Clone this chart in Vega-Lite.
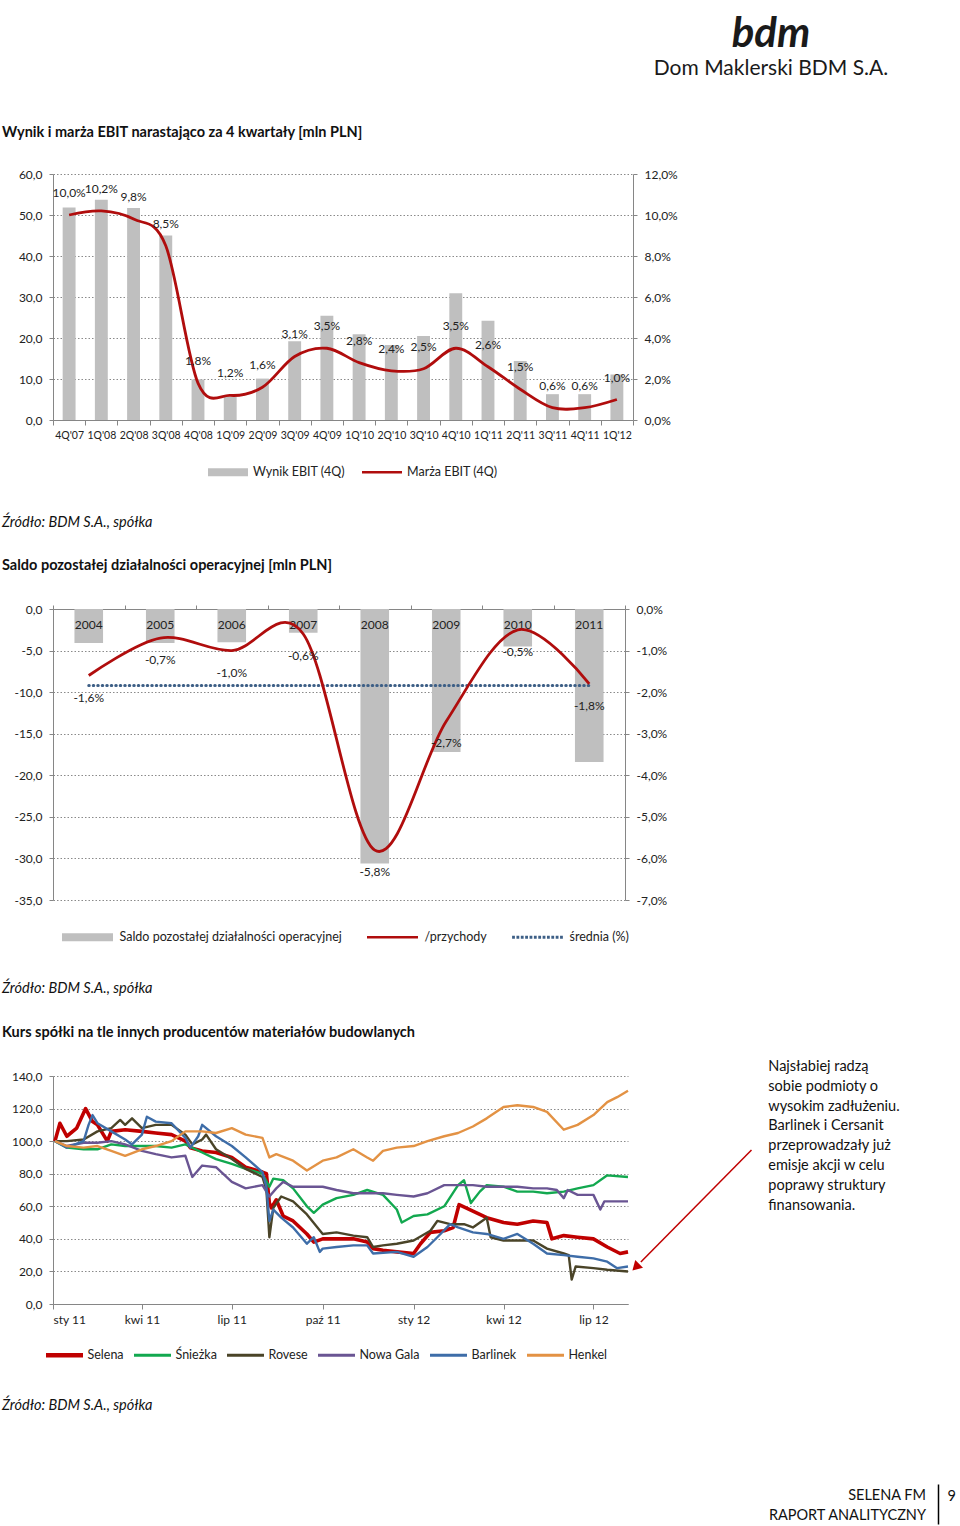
{
  "$schema": "https://vega.github.io/schema/vega-lite/v6.json",
  "background": "white",
  "padding": {"left": 2, "top": 12, "right": 0, "bottom": 0},
  "config": {
    "font": "Lato",
    "view": {"stroke": null},
    "locale": {
      "number": {"decimal": ",", "thousands": " ", "grouping": [3], "currency": ["", " zł"], "minus": "-"},
      "time": {
        "dateTime": "%A, %e %B %Y, %X", "date": "%d.%m.%Y", "time": "%H:%M:%S", "periods": ["AM", "PM"],
        "days": ["niedziela", "poniedziałek", "wtorek", "środa", "czwartek", "piątek", "sobota"],
        "shortDays": ["niedz.", "pon.", "wt.", "śr.", "czw.", "pt.", "sob."],
        "months": ["styczeń", "luty", "marzec", "kwiecień", "maj", "czerwiec", "lipiec", "sierpień", "wrzesień", "październik", "listopad", "grudzień"],
        "shortMonths": ["sty", "lut", "mar", "kwi", "maj", "cze", "lip", "sie", "wrz", "paź", "lis", "gru"]
      }
    },
    "axis": {
      "labelFont": "Lato", "labelFontSize": 12, "labelColor": "#222", "domainColor": "#868686", "tickColor": "#868686",
      "gridColor": "#8a8a8a", "gridDash": [1.5, 2], "gridWidth": 1, "title": null, "labelOverlap": false, "tickSize": 4, "labelPadding": 7
    },
    "legend": {"labelFont": "Lato", "labelFontSize": 12.5, "labelColor": "#222", "padding": 0, "labelLimit": 400, "symbolStrokeWidth": 0, "symbolSize": 1600},
    "title": {"font": "Lato", "fontSize": 14.5, "color": "#111", "subtitleFont": "Lato", "subtitleFontSize": 14.5, "subtitleColor": "#111"}
  },
  "title": {
    "text": "bdm", "subtitle": "Dom Maklerski BDM S.A.", "anchor": "start", "align": "center", "frame": "group",
    "fontSize": 42, "fontWeight": "bold", "fontStyle": "italic", "color": "#1a1a1a",
    "subtitleFontSize": 21, "subtitleColor": "#1a1a1a", "subtitlePadding": 2, "dx": 718, "offset": 45
  },
  "spacing": 36,
  "resolve": {"scale": {"color": "independent"}, "legend": {"color": "independent"}},
  "vconcat": [
    {
      "width": 580, "height": 246,
      "title": {"text": "Wynik i marża EBIT narastająco za 4 kwartały [mln PLN]", "anchor": "start", "frame": "group", "dx": -51, "offset": 28, "fontWeight": "bold"},
      "data": {"values": [
        {"q": "4Q'07", "wynik": 51.8, "marza": 0.100},
        {"q": "1Q'08", "wynik": 53.7, "marza": 0.102},
        {"q": "2Q'08", "wynik": 51.7, "marza": 0.098},
        {"q": "3Q'08", "wynik": 45.0, "marza": 0.085},
        {"q": "4Q'08", "wynik": 9.9, "marza": 0.018},
        {"q": "1Q'09", "wynik": 5.7, "marza": 0.012},
        {"q": "2Q'09", "wynik": 10.1, "marza": 0.016},
        {"q": "3Q'09", "wynik": 19.2, "marza": 0.031},
        {"q": "4Q'09", "wynik": 25.4, "marza": 0.035},
        {"q": "1Q'10", "wynik": 20.9, "marza": 0.028},
        {"q": "2Q'10", "wynik": 18.3, "marza": 0.024},
        {"q": "3Q'10", "wynik": 20.5, "marza": 0.025},
        {"q": "4Q'10", "wynik": 30.9, "marza": 0.035},
        {"q": "1Q'11", "wynik": 24.2, "marza": 0.026},
        {"q": "2Q'11", "wynik": 14.4, "marza": 0.015},
        {"q": "3Q'11", "wynik": 6.3, "marza": 0.006},
        {"q": "4Q'11", "wynik": 6.3, "marza": 0.006},
        {"q": "1Q'12", "wynik": 11.1, "marza": 0.010}
      ]},
      "encoding": {
        "x": {"field": "q", "type": "ordinal", "sort": null, "scale": {"paddingInner": 0, "paddingOuter": 0},
              "axis": {"labelAngle": 0, "tickBand": "extent", "labelFontSize": 10.5, "labelPadding": 5, "tickSize": 5, "grid": false}}
      },
      "layer": [
        {
          "mark": {"type": "bar", "width": {"band": 0.4}},
          "encoding": {
            "y": {"field": "wynik", "type": "quantitative", "scale": {"domain": [0, 60], "nice": false},
                  "axis": {"values": [0, 10, 20, 30, 40, 50, 60], "format": ".1f", "grid": true}},
            "color": {"datum": "Wynik EBIT (4Q)", "type": "nominal",
              "scale": {"domain": ["Wynik EBIT (4Q)", "Marża EBIT (4Q)"], "range": ["#bfbfbf", "#b00d0d"]},
              "legend": {"orient": "none", "legendX": 155, "legendY": 278, "direction": "horizontal", "title": null,
                "symbolOffset": 0, "labelOffset": 5, "columnPadding": 17,
                "encode": {"symbols": {"update": {
                  "shape": {"signal": "datum.value === 'Wynik EBIT (4Q)' ? 'M-1,-0.2H1V0.2H-1Z' : 'M-1,-0.0625H1V0.0625H-1Z'"},
                  "fill": {"signal": "datum.value === 'Wynik EBIT (4Q)' ? '#bfbfbf' : '#b00d0d'"},
                  "stroke": {"value": "transparent"}, "strokeWidth": {"value": 0}, "opacity": {"value": 1}}}}}}
          }
        },
        {
          "encoding": {
            "y": {"field": "marza", "type": "quantitative", "scale": {"domain": [0, 0.12], "nice": false},
                  "axis": {"orient": "right", "values": [0, 0.02, 0.04, 0.06, 0.08, 0.1, 0.12], "format": ".1%", "grid": false}}
          },
          "layer": [
            {"mark": {"type": "line", "interpolate": "cardinal", "strokeWidth": 2.8},
             "encoding": {"color": {"datum": "Marża EBIT (4Q)", "type": "nominal"}}},
            {"mark": {"type": "text", "dy": -22, "fontSize": 12, "color": "#222"},
             "encoding": {"text": {"field": "marza", "type": "quantitative", "format": ".1%"}}}
          ]
        }
      ],
      "resolve": {"scale": {"y": "independent"}}
    },
    {
      "width": 572, "height": 291,
      "title": {"text": "Źródło: BDM S.A., spółka", "subtitle": "Saldo pozostałej działalności operacyjnej [mln PLN]",
        "anchor": "start", "frame": "group", "dx": -51, "offset": 30, "fontStyle": "italic", "fontWeight": "normal",
        "subtitleFontWeight": "bold", "subtitleFontStyle": "normal", "subtitlePadding": 28},
      "data": {"values": [
        {"rok": "2004", "saldo": -4.1, "przych": -0.016, "sred": -0.018375},
        {"rok": "2005", "saldo": -4.1, "przych": -0.007, "sred": -0.018375},
        {"rok": "2006", "saldo": -4.0, "przych": -0.010, "sred": -0.018375},
        {"rok": "2007", "saldo": -2.85, "przych": -0.006, "sred": -0.018375},
        {"rok": "2008", "saldo": -30.6, "przych": -0.058, "sred": -0.018375},
        {"rok": "2009", "saldo": -17.2, "przych": -0.027, "sred": -0.018375},
        {"rok": "2010", "saldo": -4.5, "przych": -0.005, "sred": -0.018375},
        {"rok": "2011", "saldo": -18.4, "przych": -0.018, "sred": -0.018375}
      ]},
      "encoding": {
        "x": {"field": "rok", "type": "ordinal", "sort": null, "scale": {"paddingInner": 0, "paddingOuter": 0},
              "axis": {"orient": "top", "labels": false, "tickBand": "extent", "ticks": true, "tickSize": 4, "grid": false}}
      },
      "layer": [
        {
          "encoding": {
            "y": {"field": "saldo", "type": "quantitative", "scale": {"domain": [-35, 0], "nice": false},
                  "axis": {"values": [-35, -30, -25, -20, -15, -10, -5, 0], "format": ".1f", "grid": true}}
          },
          "layer": [
            {"mark": {"type": "bar", "width": {"band": 0.4}},
             "encoding": {"color": {"datum": "Saldo pozostałej działalności operacyjnej", "type": "nominal",
               "scale": {"domain": ["Saldo pozostałej działalności operacyjnej", "/przychody", "średnia (%)"], "range": ["#bfbfbf", "#b00d0d", "#3d5f86"]},
               "legend": {"orient": "none", "legendX": 9, "legendY": 308, "direction": "horizontal", "title": null,
                 "symbolOffset": 5.5, "labelOffset": 12, "columnPadding": 25,
                 "encode": {"symbols": {"update": {
                   "shape": {"signal": "datum.value === '/przychody' ? 'M-1.275,-0.0625H1.275V0.0625H-1.275Z' : (datum.value === 'średnia (%)' ? 'M-1.27,-0.07h0.14v0.14h-0.14Z M-1.052,-0.07h0.14v0.14h-0.14Z M-0.834,-0.07h0.14v0.14h-0.14Z M-0.616,-0.07h0.14v0.14h-0.14Z M-0.398,-0.07h0.14v0.14h-0.14Z M-0.18,-0.07h0.14v0.14h-0.14Z M0.038,-0.07h0.14v0.14h-0.14Z M0.256,-0.07h0.14v0.14h-0.14Z M0.474,-0.07h0.14v0.14h-0.14Z M0.692,-0.07h0.14v0.14h-0.14Z M0.91,-0.07h0.14v0.14h-0.14Z M1.128,-0.07h0.14v0.14h-0.14Z' : 'M-1.275,-0.2H1.275V0.2H-1.275Z')"},
                   "fill": {"signal": "datum.value === '/przychody' ? '#b00d0d' : (datum.value === 'średnia (%)' ? '#3d5f86' : '#bfbfbf')"},
                   "stroke": {"value": "transparent"}, "strokeWidth": {"value": 0}, "opacity": {"value": 1}}}}}}}},
            {"mark": {"type": "text", "dy": 16, "fontSize": 12, "color": "#222"},
             "encoding": {"y": {"datum": 0, "type": "quantitative"}, "text": {"field": "rok", "type": "nominal"}}}
          ]
        },
        {
          "encoding": {
            "y": {"field": "przych", "type": "quantitative", "scale": {"domain": [-0.07, 0], "nice": false},
                  "axis": {"orient": "right", "values": [-0.07, -0.06, -0.05, -0.04, -0.03, -0.02, -0.01, 0], "format": ".1%", "grid": false}}
          },
          "layer": [
            {"mark": {"type": "line", "strokeDash": [0.5, 4], "strokeCap": "round", "strokeWidth": 3},
             "encoding": {"y": {"field": "sred", "type": "quantitative"}, "color": {"datum": "średnia (%)", "type": "nominal"}}},
            {"mark": {"type": "line", "interpolate": "cardinal", "strokeWidth": 2.8},
             "encoding": {"color": {"datum": "/przychody", "type": "nominal"}}},
            {"mark": {"type": "text", "dy": 22, "fontSize": 12, "color": "#222"},
             "encoding": {"text": {"field": "przych", "type": "quantitative", "format": ".1%"}}}
          ]
        }
      ],
      "resolve": {"scale": {"y": "independent"}}
    },
    {
      "width": 575, "height": 228,
      "title": {"text": "Źródło: BDM S.A., spółka", "subtitle": "Kurs spółki na tle innych producentów materiałów budowlanych",
        "anchor": "start", "frame": "group", "dx": -51, "offset": 18, "fontStyle": "italic", "fontWeight": "normal",
        "subtitleFontWeight": "bold", "subtitleFontStyle": "normal", "subtitlePadding": 30},
      "encoding": {
        "x": {"field": "d", "type": "temporal",
              "scale": {"type": "utc", "domain": [{"year": 2011, "month": 1, "date": 1, "utc": true}, {"year": 2012, "month": 8, "date": 5, "utc": true}]},
              "axis": {"format": "%b %y", "tickSize": 5, "labelPadding": 5, "grid": false, "labelOverlap": false,
                       "values": [{"year": 2011, "month": 1, "date": 1, "utc": true}, {"year": 2011, "month": 4, "date": 1, "utc": true}, {"year": 2011, "month": 7, "date": 1, "utc": true}, {"year": 2011, "month": 10, "date": 1, "utc": true}, {"year": 2012, "month": 1, "date": 1, "utc": true}, {"year": 2012, "month": 4, "date": 1, "utc": true}, {"year": 2012, "month": 7, "date": 1, "utc": true}]}},
        "y": {"field": "v", "type": "quantitative", "scale": {"domain": [0, 140], "nice": false},
              "axis": {"values": [0, 20, 40, 60, 80, 100, 120, 140], "format": ".1f", "grid": true, "labelOverlap": false}}
      },
      "layer": [
        {
          "data": {"name": "kursy"},
          "transform": [{"filter": "datum.s === 'Selena'"}],
          "mark": {"type": "line", "strokeWidth": 3.6, "strokeJoin": "round"},
          "encoding": {
            "color": {"field": "s", "type": "nominal", "sort": null,
              "scale": {"domain": ["Selena", "Śnieżka", "Rovese", "Nowa Gala", "Barlinek", "Henkel"], "range": ["#c00000", "#12a84f", "#4a4428", "#6a5593", "#3e6da8", "#e39244"]},
              "legend": {"orient": "none", "legendX": -7, "legendY": 259, "direction": "horizontal", "title": null,
                "symbolOffset": -1.5, "labelOffset": 3, "columnPadding": 10,
                "encode": {"symbols": {"update": {
                  "shape": {"signal": "datum.value === 'Selena' ? 'M-0.925,-0.11H0.925V0.11H-0.925Z' : 'M-0.925,-0.075H0.925V0.075H-0.925Z'"},
                  "fill": {"signal": "datum.value === 'Selena' ? '#c00000' : datum.value === 'Śnieżka' ? '#12a84f' : datum.value === 'Rovese' ? '#4a4428' : datum.value === 'Nowa Gala' ? '#6a5593' : datum.value === 'Barlinek' ? '#3e6da8' : '#e39244'"},
                  "stroke": {"value": "transparent"}, "strokeWidth": {"value": 0}, "opacity": {"value": 1}}}}}}
          }
        },
        {
          "data": {"name": "kursy"},
          "transform": [{"filter": "datum.s !== 'Selena'"}],
          "mark": {"type": "line", "strokeWidth": 2.4, "strokeJoin": "round"},
          "encoding": {"color": {"field": "s", "type": "nominal", "sort": null}}
        },
        {
          "data": {"values": [{"d": "2012-12-25", "v": 150, "t": "Najsłabiej radzą\nsobie podmioty o\nwysokim zadłużeniu.\nBarlinek i Cersanit\nprzeprowadzały już\nemisje akcji w celu\npoprawy struktury\nfinansowania."}]},
          "mark": {"type": "text", "align": "left", "baseline": "top", "lineBreak": "\n", "fontSize": 14.5, "lineHeight": 19.9, "color": "#111"},
          "encoding": {"text": {"field": "t", "type": "nominal"}}
        },
        {
          "data": {"values": [{"d": "2012-12-08", "v": 94.6, "d2": "2012-08-18", "v2": 25.8}]},
          "mark": {"type": "rule", "color": "#c00000", "strokeWidth": 1.5},
          "encoding": {"x2": {"field": "d2"}, "y2": {"field": "v2"}}
        },
        {
          "data": {"values": [{"d": "2012-08-14", "v": 23.3}]},
          "mark": {"type": "point", "shape": "triangle", "filled": true, "size": 120, "angle": 225, "color": "#c00000", "opacity": 1},
          "encoding": {}
        }
      ]
    },
    {
      "width": 580, "height": 17,
      "data": {"values": [{"v": 0}]},
      "mark": {"type": "point", "opacity": 0},
      "title": {"text": "Źródło: BDM S.A., spółka", "subtitle": " ", "anchor": "start", "frame": "group", "dx": -51, "offset": 0, "fontStyle": "italic", "fontWeight": "normal", "subtitlePadding": 0}
    },
    {
      "width": 885, "height": 40,
      "data": {"values": [{"v": 0}, {"v": 1}]},
      "mark": {"type": "point", "opacity": 0},
      "encoding": {
        "y": {"field": "v", "type": "quantitative", "scale": {"domain": [0, 1], "nice": false},
              "axis": {"orient": "right", "labels": false, "ticks": false, "grid": false, "domain": true, "domainColor": "#000", "domainWidth": 1.5,
                       "title": "9", "titleAngle": 0, "titleAlign": "left", "titleBaseline": "middle", "titleFontSize": 14.5, "titleFontWeight": "normal", "titleColor": "#111", "titlePadding": 9, "titleY": 12}}
      },
      "title": {"text": ["SELENA FM", "RAPORT ANALITYCZNY"], "anchor": "end", "align": "right", "frame": "group", "dx": -12, "dy": 42, "offset": 0, "fontWeight": "normal", "lineHeight": 20}
    }
  ],
  "datasets": {
    "kursy": [
      {"s": "Selena", "d": "2011-01-03", "v": 100}, {"s": "Selena", "d": "2011-01-08", "v": 111}, {"s": "Selena", "d": "2011-01-15", "v": 103},
      {"s": "Selena", "d": "2011-01-25", "v": 108}, {"s": "Selena", "d": "2011-02-03", "v": 120}, {"s": "Selena", "d": "2011-02-10", "v": 112},
      {"s": "Selena", "d": "2011-02-15", "v": 110}, {"s": "Selena", "d": "2011-02-25", "v": 100}, {"s": "Selena", "d": "2011-03-01", "v": 106},
      {"s": "Selena", "d": "2011-03-15", "v": 107}, {"s": "Selena", "d": "2011-04-01", "v": 106}, {"s": "Selena", "d": "2011-04-15", "v": 105},
      {"s": "Selena", "d": "2011-05-01", "v": 104}, {"s": "Selena", "d": "2011-05-15", "v": 100}, {"s": "Selena", "d": "2011-05-20", "v": 96},
      {"s": "Selena", "d": "2011-06-01", "v": 94}, {"s": "Selena", "d": "2011-06-15", "v": 93}, {"s": "Selena", "d": "2011-07-01", "v": 90},
      {"s": "Selena", "d": "2011-07-15", "v": 84}, {"s": "Selena", "d": "2011-08-01", "v": 81}, {"s": "Selena", "d": "2011-08-05", "v": 80},
      {"s": "Selena", "d": "2011-08-08", "v": 62}, {"s": "Selena", "d": "2011-08-10", "v": 59}, {"s": "Selena", "d": "2011-08-15", "v": 64},
      {"s": "Selena", "d": "2011-08-22", "v": 54}, {"s": "Selena", "d": "2011-09-01", "v": 51}, {"s": "Selena", "d": "2011-09-15", "v": 43},
      {"s": "Selena", "d": "2011-09-22", "v": 38}, {"s": "Selena", "d": "2011-10-01", "v": 40}, {"s": "Selena", "d": "2011-10-15", "v": 40},
      {"s": "Selena", "d": "2011-11-01", "v": 40}, {"s": "Selena", "d": "2011-11-15", "v": 38}, {"s": "Selena", "d": "2011-11-21", "v": 34},
      {"s": "Selena", "d": "2011-12-01", "v": 33}, {"s": "Selena", "d": "2011-12-15", "v": 32}, {"s": "Selena", "d": "2012-01-01", "v": 31},
      {"s": "Selena", "d": "2012-01-08", "v": 37}, {"s": "Selena", "d": "2012-01-18", "v": 44}, {"s": "Selena", "d": "2012-02-01", "v": 45},
      {"s": "Selena", "d": "2012-02-10", "v": 47}, {"s": "Selena", "d": "2012-02-16", "v": 61}, {"s": "Selena", "d": "2012-03-01", "v": 57},
      {"s": "Selena", "d": "2012-03-15", "v": 53}, {"s": "Selena", "d": "2012-04-01", "v": 50}, {"s": "Selena", "d": "2012-04-15", "v": 49},
      {"s": "Selena", "d": "2012-05-01", "v": 51}, {"s": "Selena", "d": "2012-05-15", "v": 50}, {"s": "Selena", "d": "2012-05-20", "v": 40},
      {"s": "Selena", "d": "2012-06-01", "v": 42}, {"s": "Selena", "d": "2012-06-15", "v": 41}, {"s": "Selena", "d": "2012-07-01", "v": 40},
      {"s": "Selena", "d": "2012-07-15", "v": 35}, {"s": "Selena", "d": "2012-07-28", "v": 31}, {"s": "Selena", "d": "2012-08-05", "v": 32},

      {"s": "Śnieżka", "d": "2011-01-03", "v": 100}, {"s": "Śnieżka", "d": "2011-01-15", "v": 96}, {"s": "Śnieżka", "d": "2011-02-01", "v": 95},
      {"s": "Śnieżka", "d": "2011-02-15", "v": 95}, {"s": "Śnieżka", "d": "2011-03-01", "v": 98}, {"s": "Śnieżka", "d": "2011-03-15", "v": 97},
      {"s": "Śnieżka", "d": "2011-04-01", "v": 97}, {"s": "Śnieżka", "d": "2011-04-15", "v": 97}, {"s": "Śnieżka", "d": "2011-05-01", "v": 96},
      {"s": "Śnieżka", "d": "2011-05-15", "v": 98}, {"s": "Śnieżka", "d": "2011-06-01", "v": 93}, {"s": "Śnieżka", "d": "2011-06-15", "v": 89},
      {"s": "Śnieżka", "d": "2011-07-01", "v": 86}, {"s": "Śnieżka", "d": "2011-07-15", "v": 83}, {"s": "Śnieżka", "d": "2011-08-01", "v": 80},
      {"s": "Śnieżka", "d": "2011-08-08", "v": 72}, {"s": "Śnieżka", "d": "2011-08-12", "v": 77}, {"s": "Śnieżka", "d": "2011-08-22", "v": 76},
      {"s": "Śnieżka", "d": "2011-09-01", "v": 71}, {"s": "Śnieżka", "d": "2011-09-15", "v": 60}, {"s": "Śnieżka", "d": "2011-09-22", "v": 56},
      {"s": "Śnieżka", "d": "2011-10-01", "v": 61}, {"s": "Śnieżka", "d": "2011-10-15", "v": 65}, {"s": "Śnieżka", "d": "2011-11-01", "v": 67},
      {"s": "Śnieżka", "d": "2011-11-15", "v": 70}, {"s": "Śnieżka", "d": "2011-12-01", "v": 67}, {"s": "Śnieżka", "d": "2011-12-15", "v": 58},
      {"s": "Śnieżka", "d": "2011-12-20", "v": 50}, {"s": "Śnieżka", "d": "2012-01-01", "v": 54}, {"s": "Śnieżka", "d": "2012-01-15", "v": 55},
      {"s": "Śnieżka", "d": "2012-02-01", "v": 60}, {"s": "Śnieżka", "d": "2012-02-15", "v": 73}, {"s": "Śnieżka", "d": "2012-02-21", "v": 76},
      {"s": "Śnieżka", "d": "2012-02-28", "v": 62}, {"s": "Śnieżka", "d": "2012-03-08", "v": 69}, {"s": "Śnieżka", "d": "2012-03-15", "v": 73},
      {"s": "Śnieżka", "d": "2012-04-01", "v": 72}, {"s": "Śnieżka", "d": "2012-04-15", "v": 69}, {"s": "Śnieżka", "d": "2012-05-01", "v": 69},
      {"s": "Śnieżka", "d": "2012-05-15", "v": 68}, {"s": "Śnieżka", "d": "2012-06-01", "v": 69}, {"s": "Śnieżka", "d": "2012-06-15", "v": 71},
      {"s": "Śnieżka", "d": "2012-07-01", "v": 73}, {"s": "Śnieżka", "d": "2012-07-15", "v": 79}, {"s": "Śnieżka", "d": "2012-08-05", "v": 78},

      {"s": "Rovese", "d": "2011-01-03", "v": 100}, {"s": "Rovese", "d": "2011-01-15", "v": 100}, {"s": "Rovese", "d": "2011-02-01", "v": 101},
      {"s": "Rovese", "d": "2011-02-15", "v": 106}, {"s": "Rovese", "d": "2011-03-01", "v": 108}, {"s": "Rovese", "d": "2011-03-10", "v": 113},
      {"s": "Rovese", "d": "2011-03-15", "v": 110}, {"s": "Rovese", "d": "2011-03-22", "v": 114}, {"s": "Rovese", "d": "2011-04-01", "v": 108},
      {"s": "Rovese", "d": "2011-04-15", "v": 110}, {"s": "Rovese", "d": "2011-05-01", "v": 110}, {"s": "Rovese", "d": "2011-05-15", "v": 104},
      {"s": "Rovese", "d": "2011-05-22", "v": 98}, {"s": "Rovese", "d": "2011-06-01", "v": 101}, {"s": "Rovese", "d": "2011-06-05", "v": 104},
      {"s": "Rovese", "d": "2011-06-15", "v": 95}, {"s": "Rovese", "d": "2011-07-01", "v": 89}, {"s": "Rovese", "d": "2011-07-15", "v": 83},
      {"s": "Rovese", "d": "2011-08-01", "v": 78}, {"s": "Rovese", "d": "2011-08-05", "v": 70}, {"s": "Rovese", "d": "2011-08-08", "v": 41},
      {"s": "Rovese", "d": "2011-08-12", "v": 59}, {"s": "Rovese", "d": "2011-08-20", "v": 66}, {"s": "Rovese", "d": "2011-09-01", "v": 63},
      {"s": "Rovese", "d": "2011-09-15", "v": 55}, {"s": "Rovese", "d": "2011-10-01", "v": 43}, {"s": "Rovese", "d": "2011-10-15", "v": 44},
      {"s": "Rovese", "d": "2011-11-01", "v": 42}, {"s": "Rovese", "d": "2011-11-15", "v": 41}, {"s": "Rovese", "d": "2011-11-21", "v": 35},
      {"s": "Rovese", "d": "2011-12-01", "v": 36}, {"s": "Rovese", "d": "2011-12-15", "v": 37}, {"s": "Rovese", "d": "2012-01-01", "v": 39},
      {"s": "Rovese", "d": "2012-01-18", "v": 45}, {"s": "Rovese", "d": "2012-01-25", "v": 51}, {"s": "Rovese", "d": "2012-02-07", "v": 49},
      {"s": "Rovese", "d": "2012-02-21", "v": 49}, {"s": "Rovese", "d": "2012-03-01", "v": 47}, {"s": "Rovese", "d": "2012-03-15", "v": 53},
      {"s": "Rovese", "d": "2012-03-19", "v": 41}, {"s": "Rovese", "d": "2012-04-01", "v": 39}, {"s": "Rovese", "d": "2012-04-15", "v": 39},
      {"s": "Rovese", "d": "2012-05-01", "v": 39}, {"s": "Rovese", "d": "2012-05-15", "v": 34}, {"s": "Rovese", "d": "2012-06-01", "v": 31},
      {"s": "Rovese", "d": "2012-06-06", "v": 30}, {"s": "Rovese", "d": "2012-06-09", "v": 15}, {"s": "Rovese", "d": "2012-06-13", "v": 23},
      {"s": "Rovese", "d": "2012-07-01", "v": 22}, {"s": "Rovese", "d": "2012-07-15", "v": 21}, {"s": "Rovese", "d": "2012-08-05", "v": 20},

      {"s": "Nowa Gala", "d": "2011-01-03", "v": 100}, {"s": "Nowa Gala", "d": "2011-01-15", "v": 97}, {"s": "Nowa Gala", "d": "2011-02-01", "v": 99},
      {"s": "Nowa Gala", "d": "2011-02-15", "v": 99}, {"s": "Nowa Gala", "d": "2011-03-01", "v": 100}, {"s": "Nowa Gala", "d": "2011-03-15", "v": 98},
      {"s": "Nowa Gala", "d": "2011-04-01", "v": 94}, {"s": "Nowa Gala", "d": "2011-04-15", "v": 92}, {"s": "Nowa Gala", "d": "2011-05-01", "v": 90},
      {"s": "Nowa Gala", "d": "2011-05-15", "v": 91}, {"s": "Nowa Gala", "d": "2011-05-22", "v": 78}, {"s": "Nowa Gala", "d": "2011-06-01", "v": 85},
      {"s": "Nowa Gala", "d": "2011-06-15", "v": 84}, {"s": "Nowa Gala", "d": "2011-07-01", "v": 75}, {"s": "Nowa Gala", "d": "2011-07-15", "v": 71},
      {"s": "Nowa Gala", "d": "2011-08-01", "v": 73}, {"s": "Nowa Gala", "d": "2011-08-08", "v": 66}, {"s": "Nowa Gala", "d": "2011-08-15", "v": 71},
      {"s": "Nowa Gala", "d": "2011-08-22", "v": 75}, {"s": "Nowa Gala", "d": "2011-09-01", "v": 72}, {"s": "Nowa Gala", "d": "2011-09-15", "v": 72},
      {"s": "Nowa Gala", "d": "2011-10-01", "v": 72}, {"s": "Nowa Gala", "d": "2011-10-15", "v": 70}, {"s": "Nowa Gala", "d": "2011-11-01", "v": 68},
      {"s": "Nowa Gala", "d": "2011-11-15", "v": 68}, {"s": "Nowa Gala", "d": "2011-12-01", "v": 68}, {"s": "Nowa Gala", "d": "2011-12-15", "v": 67},
      {"s": "Nowa Gala", "d": "2012-01-01", "v": 66}, {"s": "Nowa Gala", "d": "2012-01-15", "v": 68}, {"s": "Nowa Gala", "d": "2012-02-01", "v": 73},
      {"s": "Nowa Gala", "d": "2012-02-15", "v": 73}, {"s": "Nowa Gala", "d": "2012-03-01", "v": 73}, {"s": "Nowa Gala", "d": "2012-03-15", "v": 72},
      {"s": "Nowa Gala", "d": "2012-04-01", "v": 72}, {"s": "Nowa Gala", "d": "2012-04-15", "v": 72}, {"s": "Nowa Gala", "d": "2012-05-01", "v": 71},
      {"s": "Nowa Gala", "d": "2012-05-15", "v": 71}, {"s": "Nowa Gala", "d": "2012-05-25", "v": 70}, {"s": "Nowa Gala", "d": "2012-06-01", "v": 65},
      {"s": "Nowa Gala", "d": "2012-06-05", "v": 70}, {"s": "Nowa Gala", "d": "2012-06-15", "v": 67}, {"s": "Nowa Gala", "d": "2012-07-01", "v": 67},
      {"s": "Nowa Gala", "d": "2012-07-08", "v": 58}, {"s": "Nowa Gala", "d": "2012-07-12", "v": 63}, {"s": "Nowa Gala", "d": "2012-08-05", "v": 63},

      {"s": "Barlinek", "d": "2011-01-03", "v": 100}, {"s": "Barlinek", "d": "2011-01-15", "v": 96}, {"s": "Barlinek", "d": "2011-02-01", "v": 100},
      {"s": "Barlinek", "d": "2011-02-06", "v": 110}, {"s": "Barlinek", "d": "2011-02-10", "v": 116}, {"s": "Barlinek", "d": "2011-02-15", "v": 111},
      {"s": "Barlinek", "d": "2011-03-01", "v": 106}, {"s": "Barlinek", "d": "2011-03-15", "v": 101}, {"s": "Barlinek", "d": "2011-03-22", "v": 98},
      {"s": "Barlinek", "d": "2011-04-01", "v": 104}, {"s": "Barlinek", "d": "2011-04-06", "v": 115}, {"s": "Barlinek", "d": "2011-04-15", "v": 112},
      {"s": "Barlinek", "d": "2011-05-01", "v": 111}, {"s": "Barlinek", "d": "2011-05-15", "v": 102}, {"s": "Barlinek", "d": "2011-05-20", "v": 96},
      {"s": "Barlinek", "d": "2011-05-28", "v": 103}, {"s": "Barlinek", "d": "2011-06-01", "v": 110}, {"s": "Barlinek", "d": "2011-06-15", "v": 103},
      {"s": "Barlinek", "d": "2011-07-01", "v": 97}, {"s": "Barlinek", "d": "2011-07-15", "v": 90}, {"s": "Barlinek", "d": "2011-08-01", "v": 81},
      {"s": "Barlinek", "d": "2011-08-05", "v": 72}, {"s": "Barlinek", "d": "2011-08-08", "v": 51}, {"s": "Barlinek", "d": "2011-08-12", "v": 58},
      {"s": "Barlinek", "d": "2011-08-20", "v": 53}, {"s": "Barlinek", "d": "2011-09-01", "v": 47}, {"s": "Barlinek", "d": "2011-09-15", "v": 37},
      {"s": "Barlinek", "d": "2011-09-22", "v": 41}, {"s": "Barlinek", "d": "2011-09-28", "v": 32}, {"s": "Barlinek", "d": "2011-10-01", "v": 34},
      {"s": "Barlinek", "d": "2011-10-15", "v": 35}, {"s": "Barlinek", "d": "2011-11-01", "v": 36}, {"s": "Barlinek", "d": "2011-11-15", "v": 36},
      {"s": "Barlinek", "d": "2011-11-21", "v": 31}, {"s": "Barlinek", "d": "2011-12-15", "v": 32}, {"s": "Barlinek", "d": "2012-01-01", "v": 29},
      {"s": "Barlinek", "d": "2012-01-15", "v": 35}, {"s": "Barlinek", "d": "2012-01-25", "v": 41}, {"s": "Barlinek", "d": "2012-02-07", "v": 49},
      {"s": "Barlinek", "d": "2012-02-15", "v": 47}, {"s": "Barlinek", "d": "2012-03-01", "v": 44}, {"s": "Barlinek", "d": "2012-03-15", "v": 43},
      {"s": "Barlinek", "d": "2012-04-01", "v": 40}, {"s": "Barlinek", "d": "2012-04-15", "v": 43}, {"s": "Barlinek", "d": "2012-05-01", "v": 37},
      {"s": "Barlinek", "d": "2012-05-15", "v": 31}, {"s": "Barlinek", "d": "2012-06-01", "v": 30}, {"s": "Barlinek", "d": "2012-06-15", "v": 29},
      {"s": "Barlinek", "d": "2012-07-01", "v": 28}, {"s": "Barlinek", "d": "2012-07-15", "v": 26}, {"s": "Barlinek", "d": "2012-07-25", "v": 22},
      {"s": "Barlinek", "d": "2012-08-05", "v": 23},

      {"s": "Henkel", "d": "2011-01-03", "v": 100}, {"s": "Henkel", "d": "2011-01-15", "v": 97}, {"s": "Henkel", "d": "2011-02-01", "v": 96},
      {"s": "Henkel", "d": "2011-02-15", "v": 97}, {"s": "Henkel", "d": "2011-03-01", "v": 94}, {"s": "Henkel", "d": "2011-03-15", "v": 91},
      {"s": "Henkel", "d": "2011-04-01", "v": 95}, {"s": "Henkel", "d": "2011-04-15", "v": 97}, {"s": "Henkel", "d": "2011-05-01", "v": 100},
      {"s": "Henkel", "d": "2011-05-15", "v": 106}, {"s": "Henkel", "d": "2011-06-01", "v": 106}, {"s": "Henkel", "d": "2011-06-15", "v": 105},
      {"s": "Henkel", "d": "2011-07-01", "v": 108}, {"s": "Henkel", "d": "2011-07-15", "v": 104}, {"s": "Henkel", "d": "2011-08-01", "v": 102},
      {"s": "Henkel", "d": "2011-08-08", "v": 90}, {"s": "Henkel", "d": "2011-08-15", "v": 92}, {"s": "Henkel", "d": "2011-09-01", "v": 88},
      {"s": "Henkel", "d": "2011-09-15", "v": 82}, {"s": "Henkel", "d": "2011-10-01", "v": 88}, {"s": "Henkel", "d": "2011-10-15", "v": 90},
      {"s": "Henkel", "d": "2011-11-01", "v": 95}, {"s": "Henkel", "d": "2011-11-15", "v": 90}, {"s": "Henkel", "d": "2011-11-21", "v": 88},
      {"s": "Henkel", "d": "2011-12-01", "v": 94}, {"s": "Henkel", "d": "2011-12-15", "v": 96}, {"s": "Henkel", "d": "2012-01-01", "v": 97},
      {"s": "Henkel", "d": "2012-01-15", "v": 100}, {"s": "Henkel", "d": "2012-02-01", "v": 103}, {"s": "Henkel", "d": "2012-02-15", "v": 105},
      {"s": "Henkel", "d": "2012-03-01", "v": 109}, {"s": "Henkel", "d": "2012-03-15", "v": 114}, {"s": "Henkel", "d": "2012-04-01", "v": 121},
      {"s": "Henkel", "d": "2012-04-15", "v": 122}, {"s": "Henkel", "d": "2012-05-01", "v": 121}, {"s": "Henkel", "d": "2012-05-15", "v": 118},
      {"s": "Henkel", "d": "2012-06-01", "v": 107}, {"s": "Henkel", "d": "2012-06-15", "v": 110}, {"s": "Henkel", "d": "2012-07-01", "v": 116},
      {"s": "Henkel", "d": "2012-07-15", "v": 124}, {"s": "Henkel", "d": "2012-07-25", "v": 127}, {"s": "Henkel", "d": "2012-08-05", "v": 131}
    ]
  }
}
